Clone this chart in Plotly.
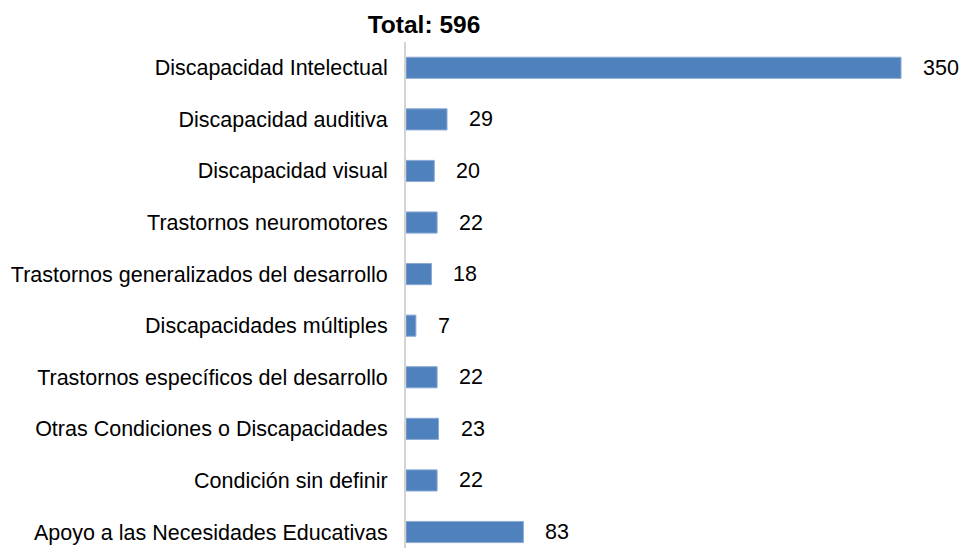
import plotly.graph_objects as go

categories = [
    "Discapacidad Intelectual",
    "Discapacidad auditiva",
    "Discapacidad visual",
    "Trastornos neuromotores",
    "Trastornos generalizados del desarrollo",
    "Discapacidades múltiples",
    "Trastornos específicos del desarrollo",
    "Otras Condiciones o Discapacidades",
    "Condición sin definir",
    "Apoyo a las Necesidades Educativas",
]
values = [350, 29, 20, 22, 18, 7, 22, 23, 22, 83]
title_text = "Total: 596"

FONT = "Liberation Sans, Arial, sans-serif"

fig = go.Figure()
fig.add_trace(go.Bar(
    x=values, y=categories, orientation="h",
    width=0.41,
    marker=dict(color="#4F81BD", line=dict(color="#8CAAD6", width=1)),
    hoverinfo="x+y",
))

for c, v in zip(categories, values):
    fig.add_annotation(x=v, y=c, text=str(v), showarrow=False,
                       xanchor="left", yanchor="middle", xshift=20,
                       font=dict(family=FONT, size=21.5, color="#000000"))

fig.update_layout(
    width=961, height=548,
    margin=dict(l=406, r=0, t=42, b=0, autoexpand=False),
    paper_bgcolor="white", plot_bgcolor="white",
    showlegend=False,
    title=dict(text="<b>" + title_text + "</b>", x=424/961, xanchor="center",
               xref="container", yref="container", y=1-24/548, yanchor="middle",
               font=dict(family=FONT, size=24.5, color="#000000")),
    font=dict(family=FONT, size=21.5, color="#000000"),
)
fig.update_xaxes(range=[0, 392.4], showgrid=False, zeroline=False,
                 showticklabels=False, showline=False, fixedrange=True)
fig.update_yaxes(type="category", range=[9.31, -0.5], showgrid=False,
                 zeroline=False, showline=True, linecolor="#D4D4D4", linewidth=2,
                 ticks="", ticklabelstandoff=12,
                 tickfont=dict(family=FONT, size=21.5, color="#000000"))

fig.write_html("out.html", config={"displayModeBar": False},
               post_script="document.body.style.margin='0';document.body.style.overflow='hidden';")
